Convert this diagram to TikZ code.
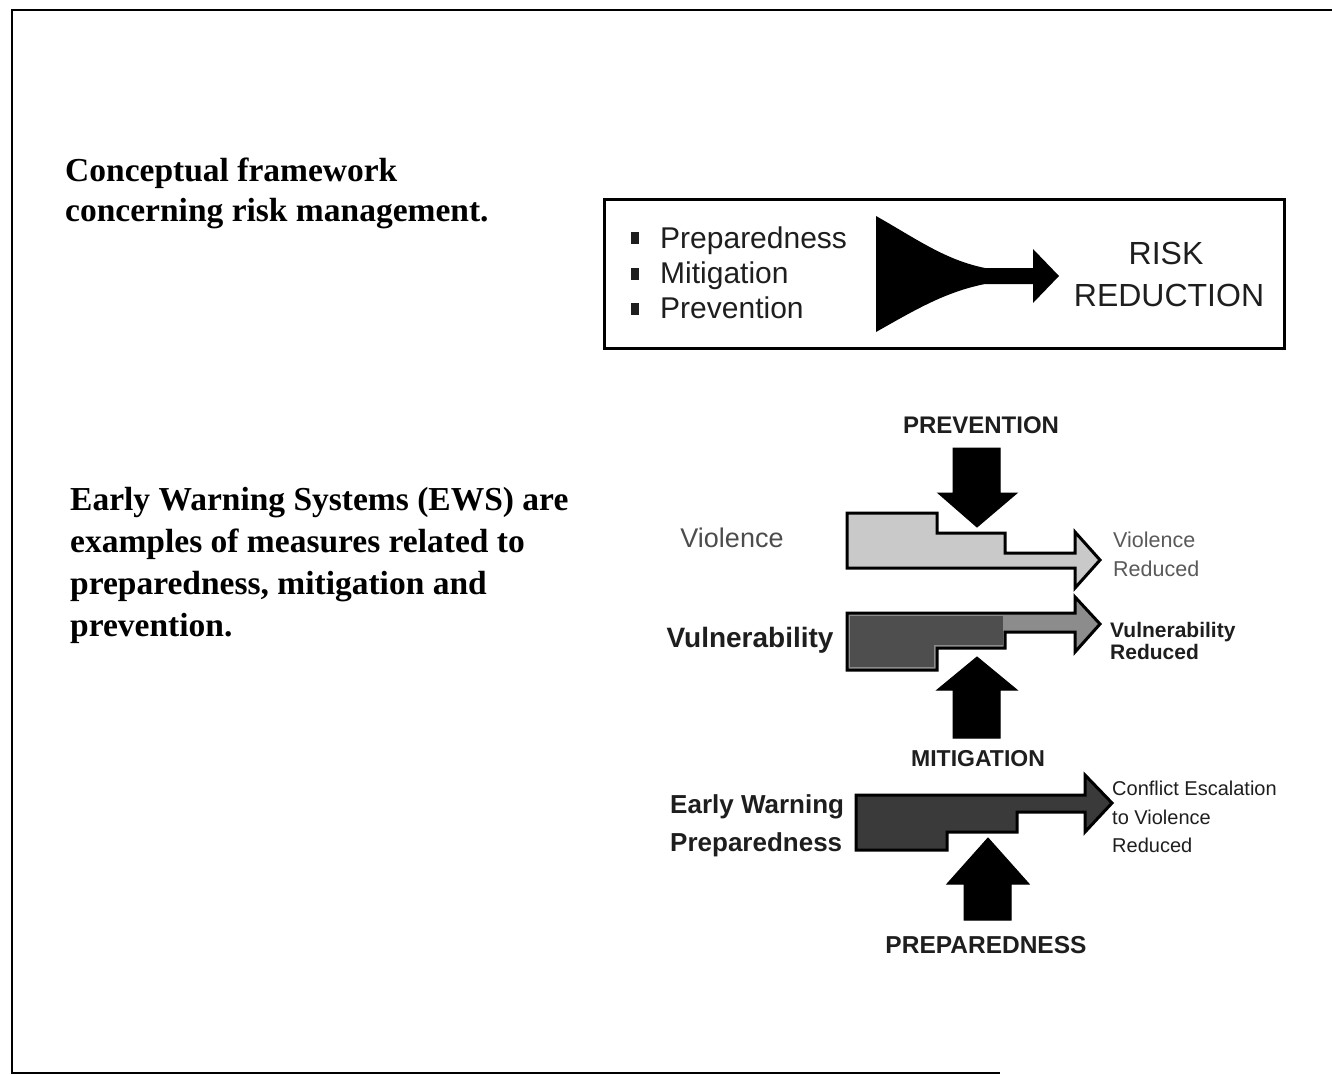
\documentclass[tikz,border=0pt]{standalone}
\usepackage{fontspec}
\setmainfont{Liberation Serif}
\newfontfamily\ars{Liberation Sans}
\definecolor{txt}{HTML}{1E1E1E}
\definecolor{lightfill}{HTML}{C9C9C9}
\definecolor{midfill}{HTML}{8C8C8C}
\definecolor{darkfill}{HTML}{4E4E4E}
\definecolor{vdarkfill}{HTML}{3A3A3A}
\begin{document}
\begin{tikzpicture}[x=1pt,y=-1pt,
  bigtext/.style={anchor=base west,inner sep=0pt,font=\bfseries\fontsize{33.5}{42}\selectfont},
  itemtext/.style={anchor=base west,inner sep=0pt,text=txt,font=\ars\fontsize{30}{30}\selectfont},
  risktext/.style={anchor=base,inner sep=0pt,text=txt,font=\ars\fontsize{32}{32}\selectfont},
  caplabel/.style={anchor=base,inner sep=0pt,text=txt,font=\ars\bfseries\fontsize{24}{24}\selectfont},
  sidelabel/.style={anchor=base west,inner sep=0pt,text=txt,font=\ars\bfseries\fontsize{26}{26}\selectfont},
  outlabel/.style={anchor=base west,inner sep=0pt,text=txt,font=\ars\fontsize{20}{20}\selectfont},
  barrow/.style={draw=black,line width=3pt,line join=miter},
  blockarrow/.style={fill=black,draw=black,line width=1pt},
  bullet/.style={fill=txt,draw=none}
]
\useasboundingbox (0,0) rectangle (1332,1075);
% page frame
\draw[line width=2.2pt] (1332,10) -- (12,10) -- (12,1073) -- (1000,1073);

% left texts
\node[bigtext] (t1) at (65,182) {Conceptual framework};
\node[bigtext] (t2) at (65,222) {concerning risk management.};
\node[bigtext] (t3) at (70,510) {Early Warning Systems (EWS) are};
\node[bigtext] (t4) at (70,552) {examples of measures related to};
\node[bigtext] (t5) at (70,594) {preparedness, mitigation and};
\node[bigtext] (t6) at (70,636) {prevention.};

% top box
\draw[line width=3pt] (604,200) rectangle (1284,348);
\fill[bullet] (631,232) rectangle (639,244);
\fill[bullet] (631,268) rectangle (639,280);
\fill[bullet] (631,303) rectangle (639,315);
\node[itemtext] (prep) at (660,248) {Preparedness};
\node[itemtext] (miti) at (660,283) {Mitigation};
\node[itemtext] (prev) at (660,318) {Prevention};
\fill[black] (876,216) .. controls (915,238) and (945,260) .. (985,268)
  -- (1033,268) -- (1033,249) -- (1059,276) -- (1033,303) -- (1033,284)
  -- (985,284) .. controls (945,292) and (915,310) .. (876,332) -- cycle;
\node[risktext] (risk) at (1166,264) {RISK};
\node[risktext] (red) at (1169,306) {REDUCTION};

% lower diagram
\node[caplabel] (lprev) at (981,433) {PREVENTION};
\filldraw[blockarrow] (953,448) -- (1000,448) -- (1000,493) -- (1017,493)
  -- (977,527) -- (938,493) -- (953,493) -- cycle;

% violence arrow
\filldraw[barrow,fill=lightfill] (847,513) -- (937,513) -- (937,533) -- (1005,533)
  -- (1005,553) -- (1075,553) -- (1075,532) -- (1100,560) -- (1075,588)
  -- (1075,568) -- (847,568) -- cycle;
% vulnerability arrow
\filldraw[barrow,fill=midfill] (847,613) -- (1075,613) -- (1075,597) -- (1100,624)
  -- (1075,652) -- (1075,632) -- (1005,632) -- (1005,648) -- (937,648)
  -- (937,670) -- (847,670) -- cycle;
\fill[darkfill] (850,616) rectangle (1003,645);
\fill[darkfill] (850,645) rectangle (934,667);

% mitigation arrow
\filldraw[blockarrow] (977,657) -- (1017,690) -- (1000,690) -- (1000,738)
  -- (953,738) -- (953,690) -- (937,690) -- cycle;
\node[caplabel,font=\ars\bfseries\fontsize{23}{23}\selectfont] (lmit) at (978,766) {MITIGATION};

% early warning arrow
\filldraw[barrow,fill=vdarkfill] (856,795) -- (1085,795) -- (1085,775) -- (1112,803)
  -- (1085,832) -- (1085,812) -- (1017,812) -- (1017,832) -- (947,832)
  -- (947,850) -- (856,850) -- cycle;

% preparedness arrow
\filldraw[blockarrow] (988,838) -- (1029,884) -- (1011,884) -- (1011,920)
  -- (964,920) -- (964,884) -- (947,884) -- cycle;
\node[caplabel,font=\ars\bfseries\fontsize{24.5}{24.5}\selectfont] (lprep) at (986,953) {PREPAREDNESS};

% side labels
\node[anchor=base,inner sep=0pt,text=black!70,font=\ars\fontsize{27}{27}\selectfont] (viol) at (732,547) {Violence};
\node[anchor=base,inner sep=0pt,text=txt,font=\ars\bfseries\fontsize{28}{28}\selectfont] (vuln) at (750,647) {Vulnerability};
\node[sidelabel] (ew1) at (670,813) {Early Warning};
\node[sidelabel] (ew2) at (670,851) {Preparedness};

% outcome labels
\node[outlabel,text=black!65,font=\ars\fontsize{21.5}{21.5}\selectfont] (vr1) at (1113,547) {Violence};
\node[outlabel,text=black!65,font=\ars\fontsize{21.5}{21.5}\selectfont] (vr2) at (1113,576) {Reduced};
\node[outlabel,font=\ars\bfseries\fontsize{21}{21}\selectfont] (vu1) at (1110,637) {Vulnerability};
\node[outlabel,font=\ars\bfseries\fontsize{21}{21}\selectfont] (vu2) at (1110,659) {Reduced};
\node[outlabel] (ce1) at (1112,795) {Conflict Escalation};
\node[outlabel] (ce2) at (1112,824) {to Violence};
\node[outlabel] (ce3) at (1112,852) {Reduced};
\end{tikzpicture}
\end{document}
